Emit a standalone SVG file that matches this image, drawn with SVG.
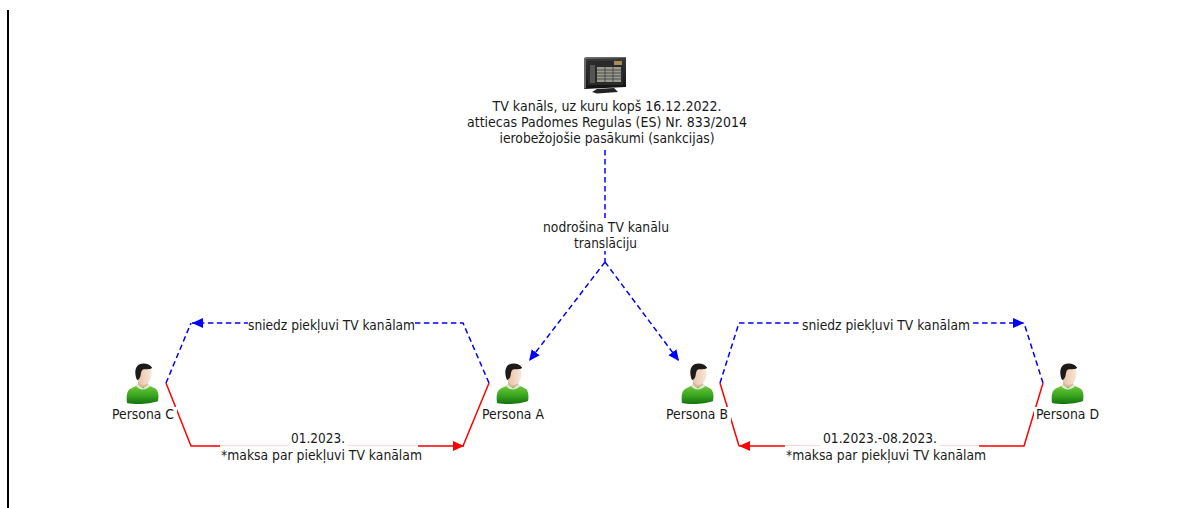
<svg xmlns="http://www.w3.org/2000/svg" width="1179" height="508" viewBox="0 0 1179 508">
<style>
text{font-family:"DejaVu Sans","Noto Sans",sans-serif;font-size:14px;fill:#1a1a1a}
.b{fill:none;stroke:#0000ff;stroke-width:1.5;stroke-dasharray:5.500 3.500}
.r{fill:none;stroke:#ff0000;stroke-width:1.5}
.bg{fill:#fff;stroke:none}
.f{stroke:#ffd8d8;stroke-width:1;fill:none}
</style>
<defs>
<marker id="ab" markerWidth="13" markerHeight="11" refX="11" refY="5" orient="auto" markerUnits="userSpaceOnUse"><path d="M0 0L11 5L0 10Z" fill="#0000ff"/></marker>
<marker id="ar" markerWidth="13" markerHeight="11" refX="11" refY="5" orient="auto" markerUnits="userSpaceOnUse"><path d="M0 0L11 5L0 10Z" fill="#ff0000"/></marker>
<linearGradient id="sh" x1="0" y1="0" x2="0" y2="1"><stop offset="0" stop-color="#7ccc40"/><stop offset=".55" stop-color="#3aa820"/><stop offset="1" stop-color="#14720f"/></linearGradient>
<linearGradient id="sk" x1="0" y1="0" x2="1" y2="0"><stop offset="0" stop-color="#e6c0a4"/><stop offset="1" stop-color="#f8e6d8"/></linearGradient>
<linearGradient id="tv" x1="0" y1="0" x2="0" y2="1"><stop offset="0" stop-color="#3a3a3a"/><stop offset="1" stop-color="#111"/></linearGradient>
<symbol id="person" width="33" height="42" viewBox="0 0 33 42" overflow="visible">
<path d="M0.500 40C-0.500 33 0.500 28 3.500 26C6.500 24 10 23.500 12 21L21 21C23 23.500 27 24 29.500 26C32 28 32.500 34 31.500 38C24 41 10 42 0.500 40Z" fill="url(#sh)"/>
<path d="M11 21L16.500 25.500L22 21L24 23C19 27.500 13 27.500 9.500 23Z" fill="#dcecd2"/>
<path d="M11.500 16L21.500 16L21.500 21.500C19 25 14 25 11.500 21.500Z" fill="#dcb79c"/>
<path d="M10.500 5C11 2 17 1 21 3C25 5 25.500 9 24.500 14C23.500 19 20 22 17 22C13.500 22 11 18 10 14Z" fill="url(#sk)"/>
<path d="M10.500 17C8 11 8 4 12.500 1.500C17 -0.500 23 0.500 25.500 4.500C25.500 6.500 20 6 16.500 6.500C14.500 7.500 14.500 10.500 14 13C13.500 15 12 17 10.500 17Z" fill="#1e1a18"/>
</symbol>
</defs>
<rect width="1179" height="508" fill="#fff"/>
<rect x="7" y="10" width="2" height="498" fill="#000"/>
<g id="connectors">
<path class="b" d="M605 150V262"/>
<path class="b" d="M605 262L529 361" marker-end="url(#ab)"/>
<path class="b" d="M605 262L679 361" marker-end="url(#ab)"/>
<path class="b" d="M489 383L463 323H192" marker-end="url(#ab)"/>
<path class="b" d="M166 383L191 323"/>
<path class="r" d="M166 383L191 446H464" marker-end="url(#ar)"/>
<path class="r" d="M489 383L463 446"/>
<path class="b" d="M720 383L739 323H1024" marker-end="url(#ab)"/>
<path class="b" d="M1043 383L1024 323"/>
<path class="r" d="M1043 383L1024 446H739" marker-end="url(#ar)"/>
<path class="r" d="M720 383L739 446"/>
</g>
<g id="tv-channel">
<path d="M584 58L626 57V87L584 89Z" fill="url(#tv)"/>
<path d="M584 58L586 57L626 57V58L586 59V88L584 89Z" fill="#6a6a6a"/>
<rect x="588" y="61" width="35" height="24" fill="#2a2a2a"/>
<rect x="590" y="65" width="5" height="18" fill="#555"/>
<rect x="597" y="67" width="24" height="15" fill="#9a9a90"/>
<path d="M597 70H621M597 73H621M597 76H621M597 79H621M605 67V82M613 67V82" stroke="#3a3a3a" stroke-width=".8"/>
<rect x="614" y="61" width="8" height="4" fill="#a58a5a"/>
<path d="M597 89L614 88L618 92L597 93.500L592 92Z" fill="#222"/>
<text x="607" y="111" text-anchor="middle" textLength="229" lengthAdjust="spacingAndGlyphs">TV kanāls, uz kuru kopš 16.12.2022.</text>
<text x="607" y="127" text-anchor="middle" textLength="280" lengthAdjust="spacingAndGlyphs">attiecas Padomes Regulas (ES) Nr. 833/2014</text>
<text x="607" y="143" text-anchor="middle" textLength="215" lengthAdjust="spacingAndGlyphs">ierobežojošie pasākumi (sankcijas)</text>
</g>
<g id="provider-label">
<rect class="bg" x="540" y="218" width="132" height="33"/>
<text x="606" y="232" text-anchor="middle" textLength="126" lengthAdjust="spacingAndGlyphs">nodrošina TV kanālu</text>
<text x="605.500" y="248" text-anchor="middle" textLength="63" lengthAdjust="spacingAndGlyphs">translāciju</text>
</g>
<g id="persona-c">
<use href="#person" x="126.500" y="363"/>
<rect class="bg" x="111" y="407" width="66" height="15"/>
<text x="143" y="419" text-anchor="middle" textLength="62" lengthAdjust="spacingAndGlyphs">Persona C</text>
</g>
<g id="persona-a">
<use href="#person" x="496.500" y="363"/>
<text x="513" y="419" text-anchor="middle" textLength="62" lengthAdjust="spacingAndGlyphs">Persona A</text>
</g>
<g id="persona-b">
<use href="#person" x="681.500" y="363"/>
<rect class="bg" x="665" y="407" width="66" height="15"/>
<text x="697" y="419" text-anchor="middle" textLength="62" lengthAdjust="spacingAndGlyphs">Persona B</text>
</g>
<g id="persona-d">
<use href="#person" x="1051.500" y="363"/>
<rect class="bg" x="1034" y="407" width="67" height="15"/>
<text x="1067.500" y="419" text-anchor="middle" textLength="63" lengthAdjust="spacingAndGlyphs">Persona D</text>
</g>
<g id="label-access-left">
<rect class="bg" x="248" y="318" width="167" height="15"/>
<text x="331.500" y="330" text-anchor="middle" textLength="167" lengthAdjust="spacingAndGlyphs">sniedz piekļuvi TV kanālam</text>
</g>
<g id="label-access-right">
<rect class="bg" x="802" y="318" width="168" height="15"/>
<text x="886" y="330" text-anchor="middle" textLength="168" lengthAdjust="spacingAndGlyphs">sniedz piekļuvi TV kanālam</text>
</g>
<g id="label-fee-left">
<rect class="bg" x="220" y="444" width="198" height="18"/>
<rect class="bg" x="288" y="430" width="60" height="16"/>
<path class="f" d="M220 445.500H288M348 445.500H418"/>
<text x="318" y="443" text-anchor="middle" textLength="54" lengthAdjust="spacingAndGlyphs">01.2023.</text>
<text x="321.500" y="460" text-anchor="middle" textLength="201" lengthAdjust="spacingAndGlyphs">*maksa par piekļuvi TV kanālam</text>
</g>
<g id="label-fee-right">
<rect class="bg" x="785" y="444" width="194" height="18"/>
<rect class="bg" x="820" y="430" width="120" height="16"/>
<path class="f" d="M785 445.500H820M940 445.500H979"/>
<text x="880" y="443" text-anchor="middle" textLength="114" lengthAdjust="spacingAndGlyphs">01.2023.-08.2023.</text>
<text x="886" y="460" text-anchor="middle" textLength="200" lengthAdjust="spacingAndGlyphs">*maksa par piekļuvi TV kanālam</text>
</g>
</svg>
